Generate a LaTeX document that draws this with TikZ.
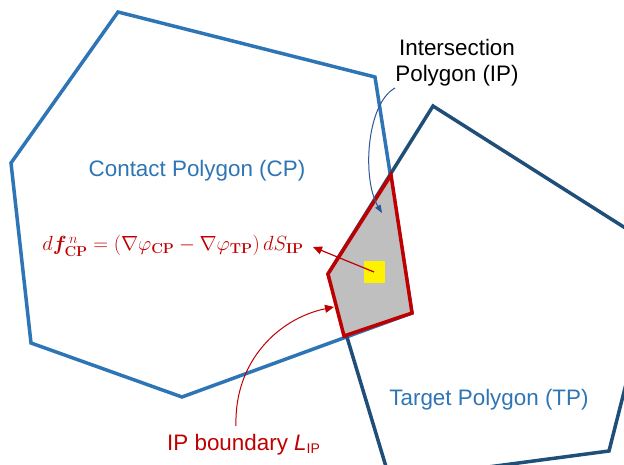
\documentclass[tikz,border=0pt]{standalone}
\usepackage{fix-cm}
\usepackage{amsmath}
\usepackage{bm}
\usepackage[no-math]{fontspec}
\setmainfont{Liberation Sans}
\usetikzlibrary{arrows.meta}
\definecolor{cpblue}{RGB}{46,117,182}
\definecolor{tpblue}{RGB}{31,78,121}
\definecolor{arrblue}{RGB}{47,85,151}
\definecolor{ipred}{RGB}{192,0,0}
\definecolor{ipgray}{RGB}{191,191,191}
\tikzset{
  cpline/.style={draw=cpblue,line width=3.5pt,line join=miter},
  tpline/.style={draw=tpblue,line width=3.5pt,line join=miter},
  ipshape/.style={draw=ipred,fill=ipgray,line width=3.5pt,line join=miter},
  lbl/.style={font=\fontsize{22.4}{26}\selectfont,align=center,inner sep=0pt},
  redarrow/.style={draw=ipred,line width=1.2pt,-{Triangle[length=9pt,width=8pt]}},
  bluearrow/.style={draw=arrblue,line width=1pt,-{Triangle[length=8pt,width=6pt]}},
}
\begin{document}
\begin{tikzpicture}[x=1pt,y=-1pt]
\useasboundingbox (0,0) rectangle (624,465);
\clip (0,0) rectangle (624,465);
% Contact polygon
\draw[cpline] (118,12) -- (375,77) -- (412,313) -- (182,397) -- (31,343) -- (11,163) -- cycle;
% Target polygon
\draw[tpline] (433,106) -- (660,250) -- (609,451) -- (390,480) -- (328,274) -- cycle;
% Intersection polygon
\draw[ipshape] (391,175) -- (412,313) -- (344,336) -- (328,274) -- cycle;
% yellow square
\node[fill=yellow,minimum size=21pt,inner sep=0pt] (sq) at (374,272) {};
% labels
\node[lbl,text=cpblue] (cp) at (197,171) {Contact Polygon (CP)};
\node[lbl,text=cpblue] (tp) at (489,400) {Target Polygon (TP)};
\node[lbl,text=black] (ip) at (457,63) {Intersection\\Polygon (IP)};
\node[lbl,text=ipred,anchor=base west] (bd) at (167,450) {IP boundary \textit{L}\raisebox{-0.15em}{\fontsize{14}{14}\selectfont IP}};
\node[text=ipred,inner sep=0pt,font=\fontsize{20.5}{24}\selectfont] (eq) at (173,246)
  {$d\bm{f}^{\,n}_{\mathbf{CP}} = (\nabla\varphi_{\mathbf{CP}} - \nabla\varphi_{\mathbf{TP}})\,dS_{\mathbf{IP}}$};
% connectors
\coordinate (eqtip) at (313,247);
\coordinate (bdstart) at (236,426);
\coordinate (bdtip) at (334,307);
\coordinate (ipstart) at (395,88);
\coordinate (iptip) at (382,213);
\draw[redarrow] (sq.center) -- (eqtip);
\draw[redarrow,line width=1pt] (bdstart) .. controls (234,360) and (280,318) .. (bdtip);
\draw[bluearrow] (ipstart) .. controls (366,104) and (362,180) .. (iptip);
\end{tikzpicture}
\end{document}
